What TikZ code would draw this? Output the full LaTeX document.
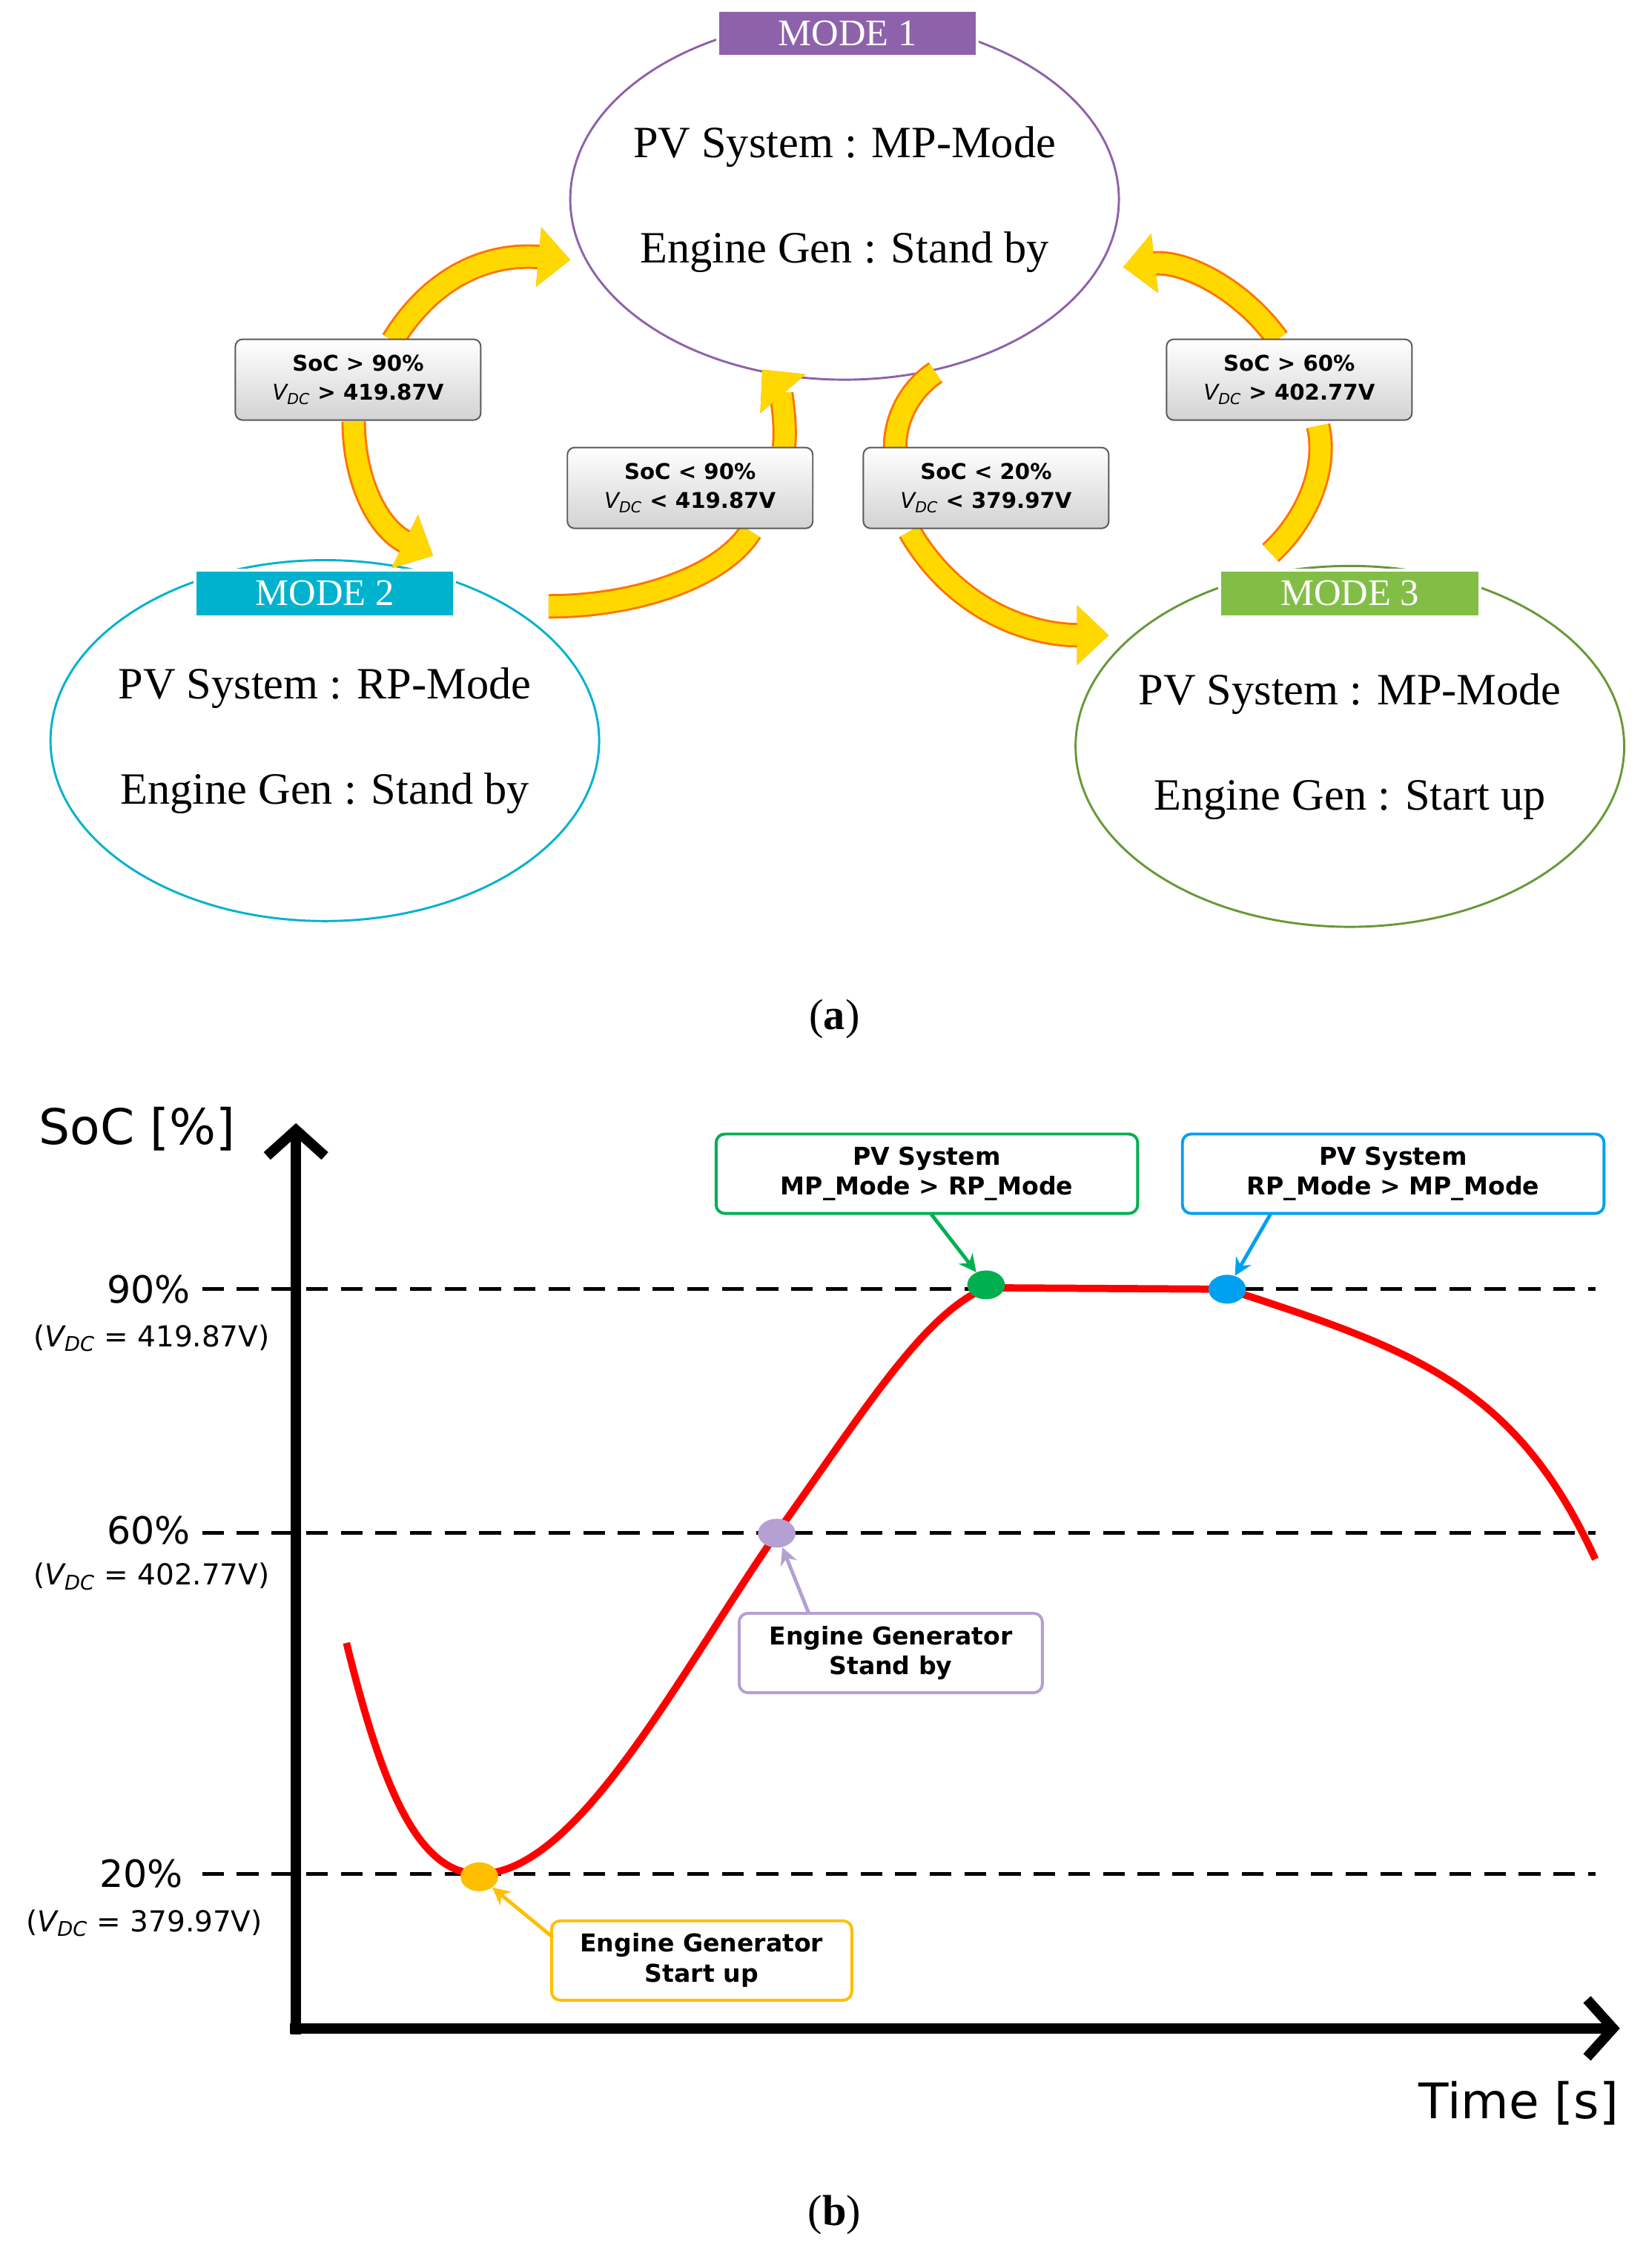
\documentclass[tikz,border=0pt]{standalone}
\usepackage{fontspec}
\setmainfont{Liberation Serif}
\newfontfamily\sns{DejaVu Sans}
\usetikzlibrary{arrows.meta,shapes.geometric}
\definecolor{mpurple}{RGB}{142,98,170}
\definecolor{mcyan}{RGB}{0,178,206}
\definecolor{mgreen}{RGB}{130,190,70}
\definecolor{ygold}{RGB}{255,190,0}
\definecolor{bblue}{RGB}{0,160,240}
\definecolor{ggreen}{RGB}{0,176,80}
\definecolor{lpurple}{RGB}{180,160,210}
\begin{document}
\begin{tikzpicture}[x=1pt,y=-1pt,
 mode/.style={ellipse,draw=#1,line width=1.5pt,minimum width=380,minimum height=250,inner sep=0pt},
 mtxt/.style={align=center,font=\fontsize{31}{73}\selectfont},
 tag/.style={fill=#1,draw=white,line width=2pt,text=white,minimum width=180,minimum height=32,font=\fontsize{26}{28}\selectfont,inner sep=0pt},
 cond/.style={draw=gray!70!black,rounded corners=5pt,top color=white,bottom color=gray!35,minimum width=170,minimum height=56,align=center,font=\sns\bfseries\fontsize{15}{20}\selectfont,line width=1pt},
 yarr/.style={line width=14pt,draw=ygold!60!yellow,preaction={draw=orange!90!red,line width=17pt}},
 yhead/.style={yarr,-{Triangle[length=22pt,width=40pt]}},
 lbl/.style={draw=#1,line width=2pt,rounded corners=6pt,fill=white,minimum height=55,align=center,font=\sns\bfseries\fontsize{17}{21}\selectfont},
 ptr/.style={draw=#1,line width=2.5pt,-{Stealth[length=12pt,width=12pt]}},
 dot/.style={ellipse,fill=#1,minimum width=26,minimum height=20,inner sep=0pt},
 ax/.style={font=\sns\fontsize{26}{30}\selectfont},
 vd/.style={font=\sns\fontsize{20}{24}\selectfont}]
\useasboundingbox (0,0) rectangle (1140,1571);
% (a)
\node[mode=mpurple] (m1) at (585,138) {};
\node[mtxt] (m1t) at (m1.center) {PV System : MP-Mode\\Engine Gen : Stand by};
\node[mode=mcyan] (m2) at (225,513) {};
\node[mtxt] (m2t) at (m2.center) {PV System : RP-Mode\\Engine Gen : Stand by};
\node[mode=mgreen!80!black] (m3) at (935,517) {};
\node[mtxt] (m3t) at (m3.center) {PV System : MP-Mode\\Engine Gen : Start up};
\node[tag=mpurple] (t1) at (587,23) {MODE 1};
\node[tag=mcyan] (t2) at (225,411) {MODE 2};
\node[tag=mgreen] (t3) at (935,411) {MODE 3};
\coordinate (a1s) at (272,236); \coordinate (a1e) at (395,180);
\coordinate (a2s) at (245,292); \coordinate (a2e) at (300,385);
\coordinate (a3s) at (380,420); \coordinate (a3m) at (520,368);
\coordinate (a3n) at (543,310); \coordinate (a3e) at (528,256);
\coordinate (a4s) at (648,258); \coordinate (a4m) at (620,310);
\coordinate (a4n) at (630,368); \coordinate (a4e) at (768,440);
\coordinate (a5s) at (880,383); \coordinate (a5m) at (913,295);
\coordinate (a5n) at (885,235); \coordinate (a5e) at (778,185);
\draw[yhead] (a1s) .. controls (300,190) and (340,175) .. (a1e);
\draw[yhead] (a2s) .. controls (245,330) and (260,365) .. (a2e);
\draw[yarr] (a3s) .. controls (440,420) and (500,400) .. (a3m);
\draw[yhead] (a3n) .. controls (545,290) and (540,270) .. (a3e);
\draw[yarr] (a4s) .. controls (630,270) and (620,290) .. (a4m);
\draw[yhead] (a4n) .. controls (660,420) and (710,440) .. (a4e);
\draw[yarr] (a5s) .. controls (905,360) and (920,325) .. (a5m);
\draw[yhead] (a5n) .. controls (860,200) and (820,180) .. (a5e);
\node[cond] (c1) at (248,263) {SoC > 90\%\\{\itshape\mdseries V\textsubscript{DC}} > 419.87V};
\node[cond] (c2) at (478,338) {SoC < 90\%\\{\itshape\mdseries V\textsubscript{DC}} < 419.87V};
\node[cond] (c3) at (683,338) {SoC < 20\%\\{\itshape\mdseries V\textsubscript{DC}} < 379.97V};
\node[cond] (c4) at (893,263) {SoC > 60\%\\{\itshape\mdseries V\textsubscript{DC}} > 402.77V};
\node[font=\fontsize{30}{32}\selectfont] (la) at (578,706) {(\textbf{a})};
% (b)
\coordinate (yt) at (205,778); \coordinate (xt) at (1122,1405);
\draw[line width=7pt,-{Straight Barb[length=18pt,width=40pt]}] (205,1409) -- (yt);
\draw[line width=7pt,-{Straight Barb[length=18pt,width=40pt]}] (201,1405) -- (xt);
\foreach \yy in {893,1062,1298} \draw[line width=2.5pt,dash pattern=on 15pt off 9pt] (140,\yy) -- (1105,\yy);
\node[ax] (p90) at (103,893) {90\%};
\node[vd] (v90) at (105,927) {(\textit{V\textsubscript{DC}} = 419.87V)};
\node[ax] (p60) at (103,1060) {60\%};
\node[vd] (v60) at (105,1092) {(\textit{V\textsubscript{DC}} = 402.77V)};
\node[ax] (p20) at (98,1298) {20\%};
\node[vd] (v20) at (100,1332) {(\textit{V\textsubscript{DC}} = 379.97V)};
\node[font=\sns\fontsize{34}{38}\selectfont] (sy) at (95,782) {SoC [\%]};
\node[font=\sns\fontsize{34}{38}\selectfont] (sx) at (1052,1457) {Time [s]};
\draw[red,line width=5pt] (240,1138) .. controls (265,1240) and (290,1298) .. (332,1298)
 .. controls (400,1298) and (470,1160) .. (538,1062)
 .. controls (600,975) and (640,910) .. (683,892) -- (850,893)
 .. controls (980,935) and (1050,960) .. (1105,1080);
\node[dot=ygold] (d1) at (332,1300) {};
\node[dot=lpurple] (d2) at (538,1062) {};
\node[dot=ggreen] (d3) at (683,890) {};
\node[dot=bblue] (d4) at (850,893) {};
\node[lbl=ggreen,minimum width=292] (b1) at (642,813) {PV System\\MP\_Mode > RP\_Mode};
\node[lbl=bblue,minimum width=292] (b2) at (965,813) {PV System\\RP\_Mode > MP\_Mode};
\node[lbl=lpurple,minimum width=210] (b3) at (617,1145) {Engine Generator\\Stand by};
\node[lbl=ygold,minimum width=208] (b4) at (486,1358) {Engine Generator\\Start up};
\draw[ptr=ggreen] (645,841) -- (d3);
\draw[ptr=bblue] (880,841) -- (d4);
\draw[ptr=lpurple] (560,1117) -- (d2);
\draw[ptr=ygold] (383,1342) -- (d1);
\node[font=\fontsize{30}{32}\selectfont] (lb) at (578,1534) {(\textbf{b})};
\end{tikzpicture}
\end{document}
